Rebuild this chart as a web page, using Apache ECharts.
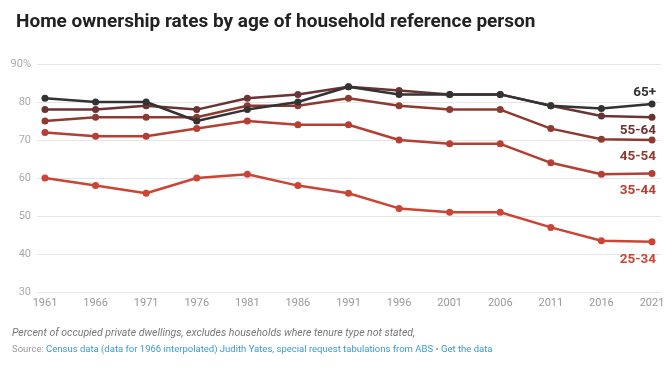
<!DOCTYPE html>
<html><head><meta charset="utf-8">
<script src="https://cdn.jsdelivr.net/npm/echarts@6/dist/echarts.min.js"></script>
<style>html,body{margin:0;padding:0;background:#fff}#c{width:672px;height:372px}</style>
</head><body><div id="c"></div>
<script>
const years = [1961,1966,1971,1976,1981,1986,1991,1996,2001,2006,2011,2016,2021];
const s65 = [81,80,80,75,78,80,84,82,82,82,79,78.3,79.5];
const s5564 = [78,78,79,78,81,82,84,83,82,82,79,76.3,76];
const s4554 = [75,76,76,76,79,79,81,79,78,78,73,70.2,70];
const s3544 = [72,71,71,73,75,74,74,70,69,69,64,61,61.2];
const s2534 = [60,58,56,60,61,58,56,52,51,51,47,43.5,43.2];
const yTicks = [30,40,50,60,70,80,90];

const FONT = 'Roboto';
function mk(name, vals, color, off){
  return {
    name, type:'line', data: years.map((y,i)=>[y, vals[i]]),
    symbol:'circle', symbolSize:7,
    lineStyle:{color, width:2.5}, itemStyle:{color},
    endLabel:{show:true, formatter:name, color, fontFamily:FONT, fontWeight:'bold', fontSize:13.5,
      align:'right', verticalAlign:'middle', distance:0, offset:off},
    z: 10
  };
}
const chart = echarts.init(document.getElementById('c'), null, {renderer:'canvas'});
chart.setOption({
  animation:false,
  textStyle:{fontFamily:FONT},
  title:{text:'Home ownership rates by age of household reference person', left:11, top:8,
    textStyle:{fontFamily:FONT, fontWeight:'bold', fontSize:19, color:'#222'}},
  grid:{left:37, right:11, top:64, bottom:80, containLabel:false},
  xAxis:{type:'value', min:1960.21, max:2021.89,
    axisLine:{show:false}, axisTick:{show:false}, splitLine:{show:false},
    axisLabel:{customValues:years, formatter:v=>String(Math.round(v)), color:'#999', fontSize:11, margin:6, fontFamily:FONT}},
  yAxis:{type:'value', min:30, max:90, interval:10,
    axisLine:{show:false}, axisTick:{show:false},
    splitLine:{lineStyle:{color:'#e6e6e6', width:1}},
    axisLabel:{color:'#aaa', fontSize:11, margin:6, fontFamily:FONT,
      formatter:v=> v===yTicks[yTicks.length-1] ? v+'%' : ''+v}},
  series:[
    mk('25-34', s2534, '#cc4433', [4,18]),
    mk('35-44', s3544, '#b43f32', [4,17]),
    mk('45-54', s4554, '#8e3a30', [4,17]),
    mk('55-64', s5564, '#6b3434', [4,13]),
    mk('65+', s65, '#333333', [4,-11])
  ],
  graphic:[
    {type:'text', left:12, top:328, style:{text:'Percent of occupied private dwellings, excludes households where tenure type not stated,',
      fontFamily:FONT, fontStyle:'italic', fontSize:10.5, fill:'#777'}},
    {type:'text', left:12, top:345, style:{
      text:'{g|Source: }{b|Census data (data for 1966 interpolated) Judith Yates, special request tabulations from ABS}{g| • }{b|Get the data}',
      rich:{g:{fill:'#999', fontFamily:FONT, fontSize:9.5}, b:{fill:'#3a9bd0', fontFamily:FONT, fontSize:9.5}}}}
  ]
});
</script></body></html>
